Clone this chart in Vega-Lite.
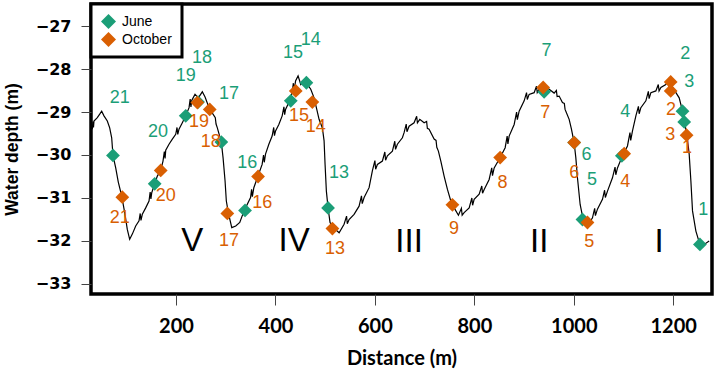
{
  "$schema": "https://vega.github.io/schema/vega-lite/v6.json",
  "width": 621,
  "height": 290,
  "autosize": {"type": "pad"},
  "padding": {"left": 3, "top": 2, "right": 4, "bottom": 4},
  "background": "white",
  "config": {
    "view": {"stroke": "black", "strokeWidth": 3.5},
    "legend": {"strokeWidth": 3}
  },
  "datasets": {
    "profile": [
      {"distance": 31.6, "depth": -29.40}, {"distance": 33.0, "depth": -29.22}, {"distance": 34.0, "depth": -29.36},
      {"distance": 35.0, "depth": -29.21}, {"distance": 41.7, "depth": -29.13},
      {"distance": 46.5, "depth": -29.05}, {"distance": 50.5, "depth": -28.98}, {"distance": 55.1, "depth": -29.09},
      {"distance": 61.8, "depth": -29.21}, {"distance": 66.6, "depth": -29.37}, {"distance": 70.6, "depth": -29.60},
      {"distance": 73.2, "depth": -30.01}, {"distance": 78.7, "depth": -30.30}, {"distance": 83.9, "depth": -30.63},
      {"distance": 90.7, "depth": -30.95}, {"distance": 97.4, "depth": -31.38}, {"distance": 102.0, "depth": -31.73},
      {"distance": 106.8, "depth": -31.96}, {"distance": 112.1, "depth": -31.84}, {"distance": 118.9, "depth": -31.65},
      {"distance": 125.6, "depth": -31.53}, {"distance": 128.0, "depth": -31.36}, {"distance": 129.5, "depth": -31.52},
      {"distance": 132.2, "depth": -31.38}, {"distance": 139.0, "depth": -31.23},
      {"distance": 145.7, "depth": -31.07}, {"distance": 148.0, "depth": -30.86}, {"distance": 149.5, "depth": -31.02},
      {"distance": 151.1, "depth": -30.88}, {"distance": 157.1, "depth": -30.67},
      {"distance": 162.4, "depth": -30.49}, {"distance": 169.2, "depth": -30.36}, {"distance": 173.8, "depth": -30.14},
      {"distance": 176.5, "depth": -29.92}, {"distance": 178.0, "depth": -30.08},
      {"distance": 179.3, "depth": -29.89}, {"distance": 185.9, "depth": -29.75}, {"distance": 192.6, "depth": -29.63},
      {"distance": 199.4, "depth": -29.52}, {"distance": 202.0, "depth": -29.36}, {"distance": 203.5, "depth": -29.52},
      {"distance": 206.0, "depth": -29.40}, {"distance": 212.7, "depth": -29.25},
      {"distance": 219.5, "depth": -29.09}, {"distance": 226.2, "depth": -28.90}, {"distance": 228.5, "depth": -28.70},
      {"distance": 230.0, "depth": -28.88}, {"distance": 231.6, "depth": -28.73},
      {"distance": 238.2, "depth": -28.59}, {"distance": 244.9, "depth": -28.67}, {"distance": 252.9, "depth": -28.53},
      {"distance": 258.4, "depth": -28.65}, {"distance": 266.4, "depth": -28.90}, {"distance": 274.4, "depth": -29.05},
      {"distance": 279.0, "depth": -29.13}, {"distance": 280.5, "depth": -29.28},
      {"distance": 283.1, "depth": -29.37}, {"distance": 291.1, "depth": -29.70}, {"distance": 294.6, "depth": -30.06},
      {"distance": 298.6, "depth": -30.60}, {"distance": 301.2, "depth": -31.07}, {"distance": 305.2, "depth": -31.34},
      {"distance": 312.1, "depth": -31.69}, {"distance": 320.1, "depth": -31.65}, {"distance": 328.2, "depth": -31.57},
      {"distance": 336.8, "depth": -31.30}, {"distance": 349.9, "depth": -30.99}, {"distance": 352.0, "depth": -30.80},
      {"distance": 353.5, "depth": -30.97}, {"distance": 356.5, "depth": -30.76},
      {"distance": 364.5, "depth": -30.50}, {"distance": 373.2, "depth": -30.22}, {"distance": 376.0, "depth": -30.00},
      {"distance": 377.5, "depth": -30.17}, {"distance": 380.0, "depth": -29.98},
      {"distance": 386.7, "depth": -29.75}, {"distance": 393.3, "depth": -29.56}, {"distance": 396.5, "depth": -29.36},
      {"distance": 398.0, "depth": -29.55}, {"distance": 400.2, "depth": -29.44},
      {"distance": 406.8, "depth": -29.29}, {"distance": 413.5, "depth": -29.09}, {"distance": 417.0, "depth": -28.88},
      {"distance": 418.5, "depth": -29.06}, {"distance": 420.3, "depth": -28.94},
      {"distance": 426.9, "depth": -28.78}, {"distance": 433.6, "depth": -28.55}, {"distance": 436.0, "depth": -28.33},
      {"distance": 437.5, "depth": -28.50}, {"distance": 440.4, "depth": -28.28},
      {"distance": 445.5, "depth": -28.16}, {"distance": 450.9, "depth": -28.36}, {"distance": 457.5, "depth": -28.28},
      {"distance": 464.2, "depth": -28.36}, {"distance": 471.0, "depth": -28.47}, {"distance": 477.7, "depth": -28.67},
      {"distance": 483.1, "depth": -28.94}, {"distance": 487.7, "depth": -29.17}, {"distance": 494.4, "depth": -29.37},
      {"distance": 497.8, "depth": -29.67}, {"distance": 499.8, "depth": -30.22}, {"distance": 502.4, "depth": -30.84},
      {"distance": 505.8, "depth": -31.23}, {"distance": 509.8, "depth": -31.57}, {"distance": 516.5, "depth": -31.69},
      {"distance": 528.0, "depth": -31.81}, {"distance": 538.0, "depth": -31.61}, {"distance": 543.0, "depth": -31.42},
      {"distance": 544.5, "depth": -31.60}, {"distance": 548.1, "depth": -31.50},
      {"distance": 558.1, "depth": -31.38}, {"distance": 568.2, "depth": -31.19}, {"distance": 573.0, "depth": -30.95},
      {"distance": 574.5, "depth": -31.13}, {"distance": 578.3, "depth": -30.99},
      {"distance": 588.3, "depth": -30.76}, {"distance": 594.9, "depth": -30.37}, {"distance": 600.0, "depth": -30.13},
      {"distance": 601.5, "depth": -30.33}, {"distance": 605.0, "depth": -30.22},
      {"distance": 615.1, "depth": -30.14}, {"distance": 620.0, "depth": -29.93}, {"distance": 621.5, "depth": -30.12},
      {"distance": 625.1, "depth": -30.02}, {"distance": 635.2, "depth": -29.91}, {"distance": 640.0, "depth": -29.68},
      {"distance": 641.5, "depth": -29.87},
      {"distance": 645.2, "depth": -29.75}, {"distance": 655.3, "depth": -29.60}, {"distance": 658.7, "depth": -29.48},
      {"distance": 663.0, "depth": -29.28}, {"distance": 664.5, "depth": -29.46},
      {"distance": 668.8, "depth": -29.33}, {"distance": 678.8, "depth": -29.25}, {"distance": 684.0, "depth": -29.10},
      {"distance": 685.5, "depth": -29.25}, {"distance": 690.3, "depth": -29.17},
      {"distance": 699.0, "depth": -29.25}, {"distance": 704.0, "depth": -29.22}, {"distance": 705.5, "depth": -29.38},
      {"distance": 709.0, "depth": -29.40}, {"distance": 719.1, "depth": -29.63},
      {"distance": 723.0, "depth": -29.66}, {"distance": 724.5, "depth": -29.82},
      {"distance": 727.7, "depth": -29.91}, {"distance": 732.6, "depth": -30.14}, {"distance": 739.2, "depth": -30.49},
      {"distance": 745.9, "depth": -30.80}, {"distance": 752.7, "depth": -31.07}, {"distance": 759.4, "depth": -31.23},
      {"distance": 768.0, "depth": -31.40}, {"distance": 774.0, "depth": -31.24}, {"distance": 775.5, "depth": -31.40},
      {"distance": 779.5, "depth": -31.34}, {"distance": 789.6, "depth": -31.23},
      {"distance": 795.0, "depth": -31.00}, {"distance": 796.5, "depth": -31.17},
      {"distance": 799.6, "depth": -31.03}, {"distance": 809.7, "depth": -30.91}, {"distance": 815.0, "depth": -30.72},
      {"distance": 816.5, "depth": -30.89}, {"distance": 819.8, "depth": -30.80},
      {"distance": 829.8, "depth": -30.57}, {"distance": 835.0, "depth": -30.30}, {"distance": 836.5, "depth": -30.48},
      {"distance": 839.9, "depth": -30.30}, {"distance": 851.9, "depth": -30.06},
      {"distance": 862.0, "depth": -29.83}, {"distance": 866.0, "depth": -29.56}, {"distance": 867.5, "depth": -29.74},
      {"distance": 870.0, "depth": -29.56}, {"distance": 880.1, "depth": -29.29},
      {"distance": 885.0, "depth": -29.00}, {"distance": 886.5, "depth": -29.18},
      {"distance": 890.1, "depth": -28.98}, {"distance": 900.2, "depth": -28.74}, {"distance": 905.0, "depth": -28.55},
      {"distance": 906.5, "depth": -28.71}, {"distance": 910.2, "depth": -28.59},
      {"distance": 920.3, "depth": -28.55}, {"distance": 925.0, "depth": -28.40}, {"distance": 926.5, "depth": -28.55},
      {"distance": 930.4, "depth": -28.47}, {"distance": 938.4, "depth": -28.37},
      {"distance": 950.5, "depth": -28.47}, {"distance": 960.5, "depth": -28.56}, {"distance": 965.0, "depth": -28.50},
      {"distance": 966.5, "depth": -28.64}, {"distance": 970.6, "depth": -28.63},
      {"distance": 977.2, "depth": -28.78}, {"distance": 981.0, "depth": -28.80}, {"distance": 982.5, "depth": -28.94},
      {"distance": 984.0, "depth": -28.98}, {"distance": 990.7, "depth": -29.17},
      {"distance": 995.3, "depth": -29.40}, {"distance": 1000.7, "depth": -29.71}, {"distance": 1004.1, "depth": -30.06},
      {"distance": 1007.4, "depth": -30.53}, {"distance": 1012.8, "depth": -31.15}, {"distance": 1017.5, "depth": -31.42},
      {"distance": 1027.5, "depth": -31.65}, {"distance": 1037.6, "depth": -31.46}, {"distance": 1042.0, "depth": -31.24},
      {"distance": 1043.5, "depth": -31.41}, {"distance": 1047.6, "depth": -31.26},
      {"distance": 1057.7, "depth": -31.03}, {"distance": 1062.0, "depth": -30.82}, {"distance": 1063.5, "depth": -30.99},
      {"distance": 1067.8, "depth": -30.84}, {"distance": 1077.8, "depth": -30.53},
      {"distance": 1083.0, "depth": -30.28}, {"distance": 1084.5, "depth": -30.46},
      {"distance": 1087.9, "depth": -30.30}, {"distance": 1097.9, "depth": -30.02}, {"distance": 1108.0, "depth": -29.79},
      {"distance": 1113.0, "depth": -29.48}, {"distance": 1114.5, "depth": -29.66},
      {"distance": 1118.1, "depth": -29.44}, {"distance": 1124.9, "depth": -29.09}, {"distance": 1130.0, "depth": -28.87},
      {"distance": 1131.5, "depth": -29.04}, {"distance": 1134.9, "depth": -28.90},
      {"distance": 1145.0, "depth": -28.74}, {"distance": 1150.0, "depth": -28.52}, {"distance": 1151.5, "depth": -28.69},
      {"distance": 1155.1, "depth": -28.55}, {"distance": 1165.1, "depth": -28.51},
      {"distance": 1170.0, "depth": -28.36}, {"distance": 1171.5, "depth": -28.51},
      {"distance": 1175.2, "depth": -28.43}, {"distance": 1185.2, "depth": -28.36}, {"distance": 1190.0, "depth": -28.26},
      {"distance": 1191.5, "depth": -28.40}, {"distance": 1195.3, "depth": -28.36},
      {"distance": 1205.4, "depth": -28.55}, {"distance": 1212.0, "depth": -28.67}, {"distance": 1218.7, "depth": -28.98},
      {"distance": 1223.5, "depth": -29.29}, {"distance": 1227.5, "depth": -29.52}, {"distance": 1232.1, "depth": -29.98},
      {"distance": 1235.5, "depth": -30.60}, {"distance": 1238.8, "depth": -31.30}, {"distance": 1245.6, "depth": -31.77},
      {"distance": 1253.6, "depth": -32.08}, {"distance": 1262.3, "depth": -32.08}, {"distance": 1272.3, "depth": -32.00}
    ],
    "stations": [
      {"campaign": "June", "id": "1", "distance": 1253.7, "depth": -32.08},
      {"campaign": "June", "id": "2", "distance": 1218.7, "depth": -28.98},
      {"campaign": "June", "id": "3", "distance": 1222.1, "depth": -29.23},
      {"campaign": "June", "id": "4", "distance": 1096.7, "depth": -30.02},
      {"campaign": "June", "id": "5", "distance": 1017.5, "depth": -31.50},
      {"campaign": "June", "id": "6", "distance": 1000.8, "depth": -29.71},
      {"campaign": "June", "id": "7", "distance": 940.4, "depth": -28.53},
      {"campaign": "June", "id": "13", "distance": 505.8, "depth": -31.23},
      {"campaign": "June", "id": "14", "distance": 462.2, "depth": -28.32},
      {"campaign": "June", "id": "15", "distance": 430.8, "depth": -28.74},
      {"campaign": "June", "id": "16", "distance": 338.8, "depth": -31.29},
      {"campaign": "June", "id": "17", "distance": 291.1, "depth": -29.70},
      {"campaign": "June", "id": "18", "distance": 244.3, "depth": -28.77},
      {"campaign": "June", "id": "19", "distance": 219.5, "depth": -29.09},
      {"campaign": "June", "id": "20", "distance": 157.1, "depth": -30.67},
      {"campaign": "June", "id": "21", "distance": 73.2, "depth": -30.01},
      {"campaign": "October", "id": "1", "distance": 1226.9, "depth": -29.54},
      {"campaign": "October", "id": "2", "distance": 1194.9, "depth": -28.30},
      {"campaign": "October", "id": "3", "distance": 1194.9, "depth": -28.51},
      {"campaign": "October", "id": "4", "distance": 1101.4, "depth": -29.97},
      {"campaign": "October", "id": "5", "distance": 1027.5, "depth": -31.57},
      {"campaign": "October", "id": "6", "distance": 1000.8, "depth": -29.71},
      {"campaign": "October", "id": "7", "distance": 938.4, "depth": -28.43},
      {"campaign": "October", "id": "8", "distance": 851.9, "depth": -30.06},
      {"campaign": "October", "id": "9", "distance": 755.9, "depth": -31.16},
      {"campaign": "October", "id": "13", "distance": 514.5, "depth": -31.71},
      {"campaign": "October", "id": "14", "distance": 474.2, "depth": -28.77},
      {"campaign": "October", "id": "15", "distance": 440.8, "depth": -28.51},
      {"campaign": "October", "id": "16", "distance": 365.0, "depth": -30.50},
      {"campaign": "October", "id": "17", "distance": 303.2, "depth": -31.36},
      {"campaign": "October", "id": "18", "distance": 267.8, "depth": -28.94},
      {"campaign": "October", "id": "19", "distance": 242.9, "depth": -28.78},
      {"campaign": "October", "id": "20", "distance": 169.2, "depth": -30.36},
      {"campaign": "October", "id": "21", "distance": 92.0, "depth": -30.98}
    ],
    "stationLabels": [
      {"campaign": "June", "id": "21", "distance": 86.7, "depth": -28.67},
      {"campaign": "June", "id": "20", "distance": 163.8, "depth": -29.47},
      {"campaign": "June", "id": "19", "distance": 219.5, "depth": -28.16},
      {"campaign": "June", "id": "18", "distance": 252.3, "depth": -27.74},
      {"campaign": "June", "id": "17", "distance": 306.6, "depth": -28.58},
      {"campaign": "June", "id": "16", "distance": 343.5, "depth": -30.18},
      {"campaign": "June", "id": "15", "distance": 435.4, "depth": -27.62},
      {"campaign": "June", "id": "14", "distance": 471.0, "depth": -27.33},
      {"campaign": "June", "id": "13", "distance": 528.0, "depth": -30.41},
      {"campaign": "June", "id": "7", "distance": 945.0, "depth": -27.58},
      {"campaign": "June", "id": "6", "distance": 1025.5, "depth": -30.01},
      {"campaign": "June", "id": "5", "distance": 1036.4, "depth": -30.58},
      {"campaign": "June", "id": "4", "distance": 1103.4, "depth": -29.00},
      {"campaign": "June", "id": "2", "distance": 1224.1, "depth": -27.66},
      {"campaign": "June", "id": "3", "distance": 1232.2, "depth": -28.30},
      {"campaign": "June", "id": "1", "distance": 1260.3, "depth": -31.28},
      {"campaign": "October", "id": "21", "distance": 86.7, "depth": -31.47},
      {"campaign": "October", "id": "20", "distance": 179.3, "depth": -30.95},
      {"campaign": "October", "id": "19", "distance": 246.3, "depth": -29.23},
      {"campaign": "October", "id": "18", "distance": 269.8, "depth": -29.70},
      {"campaign": "October", "id": "17", "distance": 306.6, "depth": -32.00},
      {"campaign": "October", "id": "16", "distance": 373.6, "depth": -31.11},
      {"campaign": "October", "id": "15", "distance": 447.5, "depth": -29.09},
      {"campaign": "October", "id": "14", "distance": 481.1, "depth": -29.35},
      {"campaign": "October", "id": "13", "distance": 519.9, "depth": -32.19},
      {"campaign": "October", "id": "9", "distance": 759.3, "depth": -31.73},
      {"campaign": "October", "id": "8", "distance": 856.5, "depth": -30.64},
      {"campaign": "October", "id": "7", "distance": 942.4, "depth": -29.02},
      {"campaign": "October", "id": "6", "distance": 1000.8, "depth": -30.41},
      {"campaign": "October", "id": "5", "distance": 1031.0, "depth": -32.02},
      {"campaign": "October", "id": "4", "distance": 1103.4, "depth": -30.62},
      {"campaign": "October", "id": "2", "distance": 1195.3, "depth": -28.95},
      {"campaign": "October", "id": "3", "distance": 1193.9, "depth": -29.53},
      {"campaign": "October", "id": "1", "distance": 1227.5, "depth": -29.83}
    ],
    "zones": [
      {"zone": "V", "distance": 232.8, "depth": -32.0},
      {"zone": "IV", "distance": 437.4, "depth": -32.0},
      {"zone": "III", "distance": 668.8, "depth": -32.02},
      {"zone": "II", "distance": 930.4, "depth": -32.02},
      {"zone": "I", "distance": 1171.8, "depth": -32.02}
    ]
  },
  "encoding": {
    "x": {
      "field": "distance",
      "type": "quantitative",
      "scale": {"domain": [29, 1278], "nice": false, "zero": false},
      "axis": {
        "title": "Distance (m)",
        "values": [200, 400, 600, 800, 1000, 1200],
        "format": "d",
        "grid": false,
        "domain": false,
        "tickSize": 11,
        "tickColor": "#444444",
        "labelFont": "Lato",
        "labelFontSize": 20,
        "labelFontWeight": "bold",
        "labelColor": "black",
        "labelPadding": 11,
        "titleFont": "Lato",
        "titleFontSize": 20,
        "titleFontWeight": "bold",
        "titleColor": "black",
        "titlePadding": 12
      }
    },
    "y": {
      "field": "depth",
      "type": "quantitative",
      "scale": {"domain": [-33.233, -26.488], "nice": false, "zero": false},
      "axis": {
        "title": "Water depth (m)",
        "values": [-33, -32, -31, -30, -29, -28, -27],
        "grid": false,
        "domain": false,
        "tickSize": 10,
        "tickColor": "#444444",
        "labelFont": "DejaVu Sans",
        "labelFontSize": 16,
        "labelFontWeight": "bold",
        "labelColor": "black",
        "labelPadding": 10,
        "titleFont": "Liberation Sans",
        "titleFontSize": 17.5,
        "titleFontWeight": "bold",
        "titleColor": "black",
        "titlePadding": 14
      }
    }
  },
  "layer": [
    {
      "data": {"name": "profile"},
      "mark": {"type": "line", "color": "black", "strokeWidth": 1.2}
    },
    {
      "data": {"name": "stations"},
      "mark": {"type": "point", "shape": "diamond", "filled": true, "size": 190, "opacity": 1},
      "encoding": {
        "color": {
          "field": "campaign",
          "type": "nominal",
          "scale": {"domain": ["June", "October"], "range": ["#1b9e77", "#d95f02"]},
          "legend": {
            "title": null,
            "orient": "none",
            "legendX": 0,
            "legendY": 0,
            "strokeColor": "black",
            "fillColor": "white",
            "padding": 10,
            "rowPadding": 3,
            "symbolType": "diamond",
            "symbolSize": 225,
            "symbolStrokeWidth": 0,
            "symbolOpacity": 1,
            "labelFont": "Liberation Sans",
            "labelFontSize": 14,
            "labelColor": "black",
            "labelOffset": 6
          }
        }
      }
    },
    {
      "data": {"name": "stationLabels"},
      "mark": {"type": "text", "font": "Liberation Sans", "fontSize": 18, "baseline": "middle", "align": "center"},
      "encoding": {
        "text": {"field": "id", "type": "nominal"},
        "color": {"field": "campaign", "type": "nominal", "legend": null}
      }
    },
    {
      "data": {"name": "zones"},
      "mark": {"type": "text", "font": "Liberation Sans", "fontSize": 33, "baseline": "middle", "align": "center", "color": "black"},
      "encoding": {
        "text": {"field": "zone", "type": "nominal"}
      }
    }
  ]
}
